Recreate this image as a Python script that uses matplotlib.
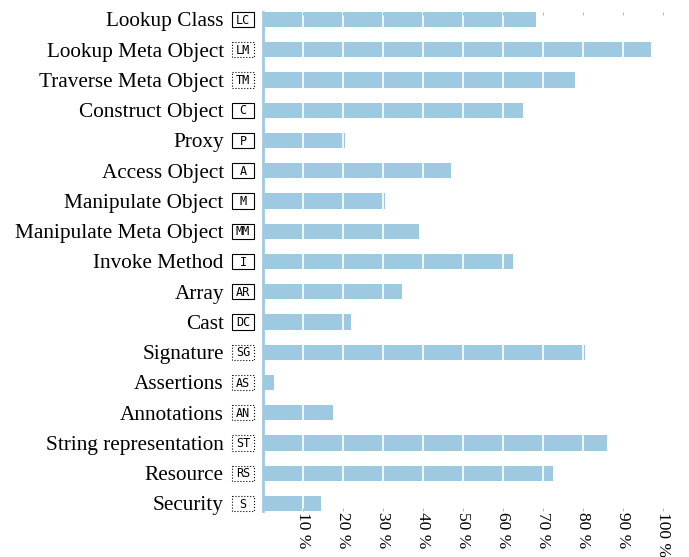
import numpy as np
import matplotlib
matplotlib.use("Agg")
import matplotlib.pyplot as plt
import matplotlib.transforms as mtransforms
from matplotlib.patches import Rectangle

# categories, short codes, whether the code box is dotted, and shares (%)
categories = ["Lookup Class", "Lookup Meta Object", "Traverse Meta Object",
              "Construct Object", "Proxy", "Access Object", "Manipulate Object",
              "Manipulate Meta Object", "Invoke Method", "Array", "Cast",
              "Signature", "Assertions", "Annotations", "String representation",
              "Resource", "Security"]
codes = ["LC", "LM", "TM", "C", "P", "A", "M", "MM", "I", "AR", "DC",
         "SG", "AS", "AN", "ST", "RS", "S"]
dotted = [False, True, True, False, False, False, False, False, False,
          False, False, True, True, True, True, True, True]
values = [68.3, 97.0, 78.0, 65.0, 20.5, 47.0, 30.5, 39.0, 62.5, 34.8, 22.0,
          80.5, 2.8, 17.5, 86.0, 72.5, 14.5]
ticks = [10, 20, 30, 40, 50, 60, 70, 80, 90, 100]
tick_labels = ["%d %%" % t for t in ticks]

bar_color = "#9ecae1"

fig = plt.figure(figsize=(6.89, 5.57), dpi=100)
ax = fig.add_axes([263 / 689, 46 / 557, 400 / 689, 499 / 557])

y = np.arange(len(categories))
ax.barh(y, values, height=0.5, color=bar_color, zorder=1)

ax.set_xlim(0, 100)
ax.set_ylim(len(categories) - 0.75, -0.25)

ax.set_xticks(ticks)
ax.set_xticklabels(tick_labels, rotation=270, fontfamily="Liberation Serif",
                   fontsize=12.5, va="top", ha="center")
ax.set_yticks([])
ax.tick_params(axis="x", which="both", top=True, bottom=True, direction="in",
               length=2, width=0.6, color="#aaaaaa", pad=1)

ax.grid(axis="x", color="white", linewidth=1.2, zorder=2)
ax.set_axisbelow(False)

for side in ["top", "right", "bottom"]:
    ax.spines[side].set_visible(False)
ax.spines["left"].set_color(bar_color)
ax.spines["left"].set_linewidth(2)
ax.spines["left"].set_zorder(3)

trans = mtransforms.blended_transform_factory(ax.transAxes, ax.transData)
box_w = 22 / 400
box_h = 0.5
for i, (name, code, dot) in enumerate(zip(categories, codes, dotted)):
    ax.text(-0.098, i + 0.08, name, transform=trans, ha="right", va="center",
            fontfamily="Liberation Serif", fontsize=15.3)
    ax.add_patch(Rectangle((-0.0775, i - box_h / 2), box_w, box_h,
                           transform=trans, clip_on=False, facecolor="white",
                           edgecolor="black", linewidth=0.8,
                           linestyle=":" if dot else "-"))
    ax.text(-0.05, i + 0.02, code, transform=trans, ha="center", va="center",
            fontfamily="DejaVu Sans Mono", fontsize=8.5)

fig.savefig("out.png", dpi=100)
